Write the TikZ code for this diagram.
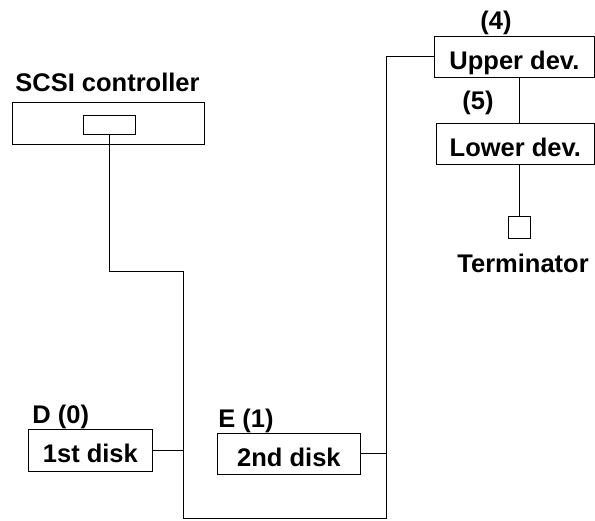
\documentclass[tikz,border=0pt]{standalone}
\usepackage{fontspec}
\setmainfont{Liberation Sans}
\usetikzlibrary{positioning}

\begin{document}
\begin{tikzpicture}[x=1pt,y=-1pt,line width=0.8pt,
  box/.style={draw, inner sep=0pt, anchor=north west, text height=27pt, text depth=2pt},
  plain/.style={draw, inner sep=0pt, anchor=north west},
  lbl/.style={inner sep=0pt, anchor=base west}]
\useasboundingbox (0,0) rectangle (595,521);
\bfseries\fontsize{25.5}{30}\selectfont
% controller
\node [lbl] (ctrllbl) at (15,92) {SCSI controller};
\node [plain, minimum width=192pt, minimum height=42pt] (ctrl) at (12,102) {};
\node [plain, minimum width=52pt, minimum height=19pt] (port) at (83,115) {};
% disks
\node [box, minimum width=124pt, minimum height=42pt] (disk1) at (28,429) {1st disk};
\node [lbl] (d0) at (32,424) {D (0)};
\node [box, minimum width=143pt, minimum height=41pt] (disk2) at (217,433) {2nd disk};
\node [lbl] (e1) at (218,428) {E (1)};
% devices on the right
\node [box, minimum width=160pt, minimum height=41pt] (upper) at (434,36) {Upper dev.};
\node [lbl] (n4) at (480,30) {(4)};
\node [box, minimum width=158pt, minimum height=41pt] (lower) at (436,123) {Lower dev.};
\node [lbl] (n5) at (462,110) {(5)};
\node [draw, minimum size=22pt, inner sep=0pt] (term) at (519,227) {};
\node [lbl] (termlbl) at (457,273) {Terminator};
% bus
\coordinate (c1) at (183,271);
\coordinate (b1) at (183,518);
\coordinate (b2) at (386,518);
\draw (port.south) |- (c1) -- (b1) -- (b2) |- (upper.west);
\draw (disk1.east) -- (disk1.east -| b1);
\draw (disk2.east) -- (disk2.east -| b2);
\draw (term.north |- upper.south) -- (term.north |- lower.north);
\draw (term.north |- lower.south) -- (term.north);
\end{tikzpicture}
\end{document}
